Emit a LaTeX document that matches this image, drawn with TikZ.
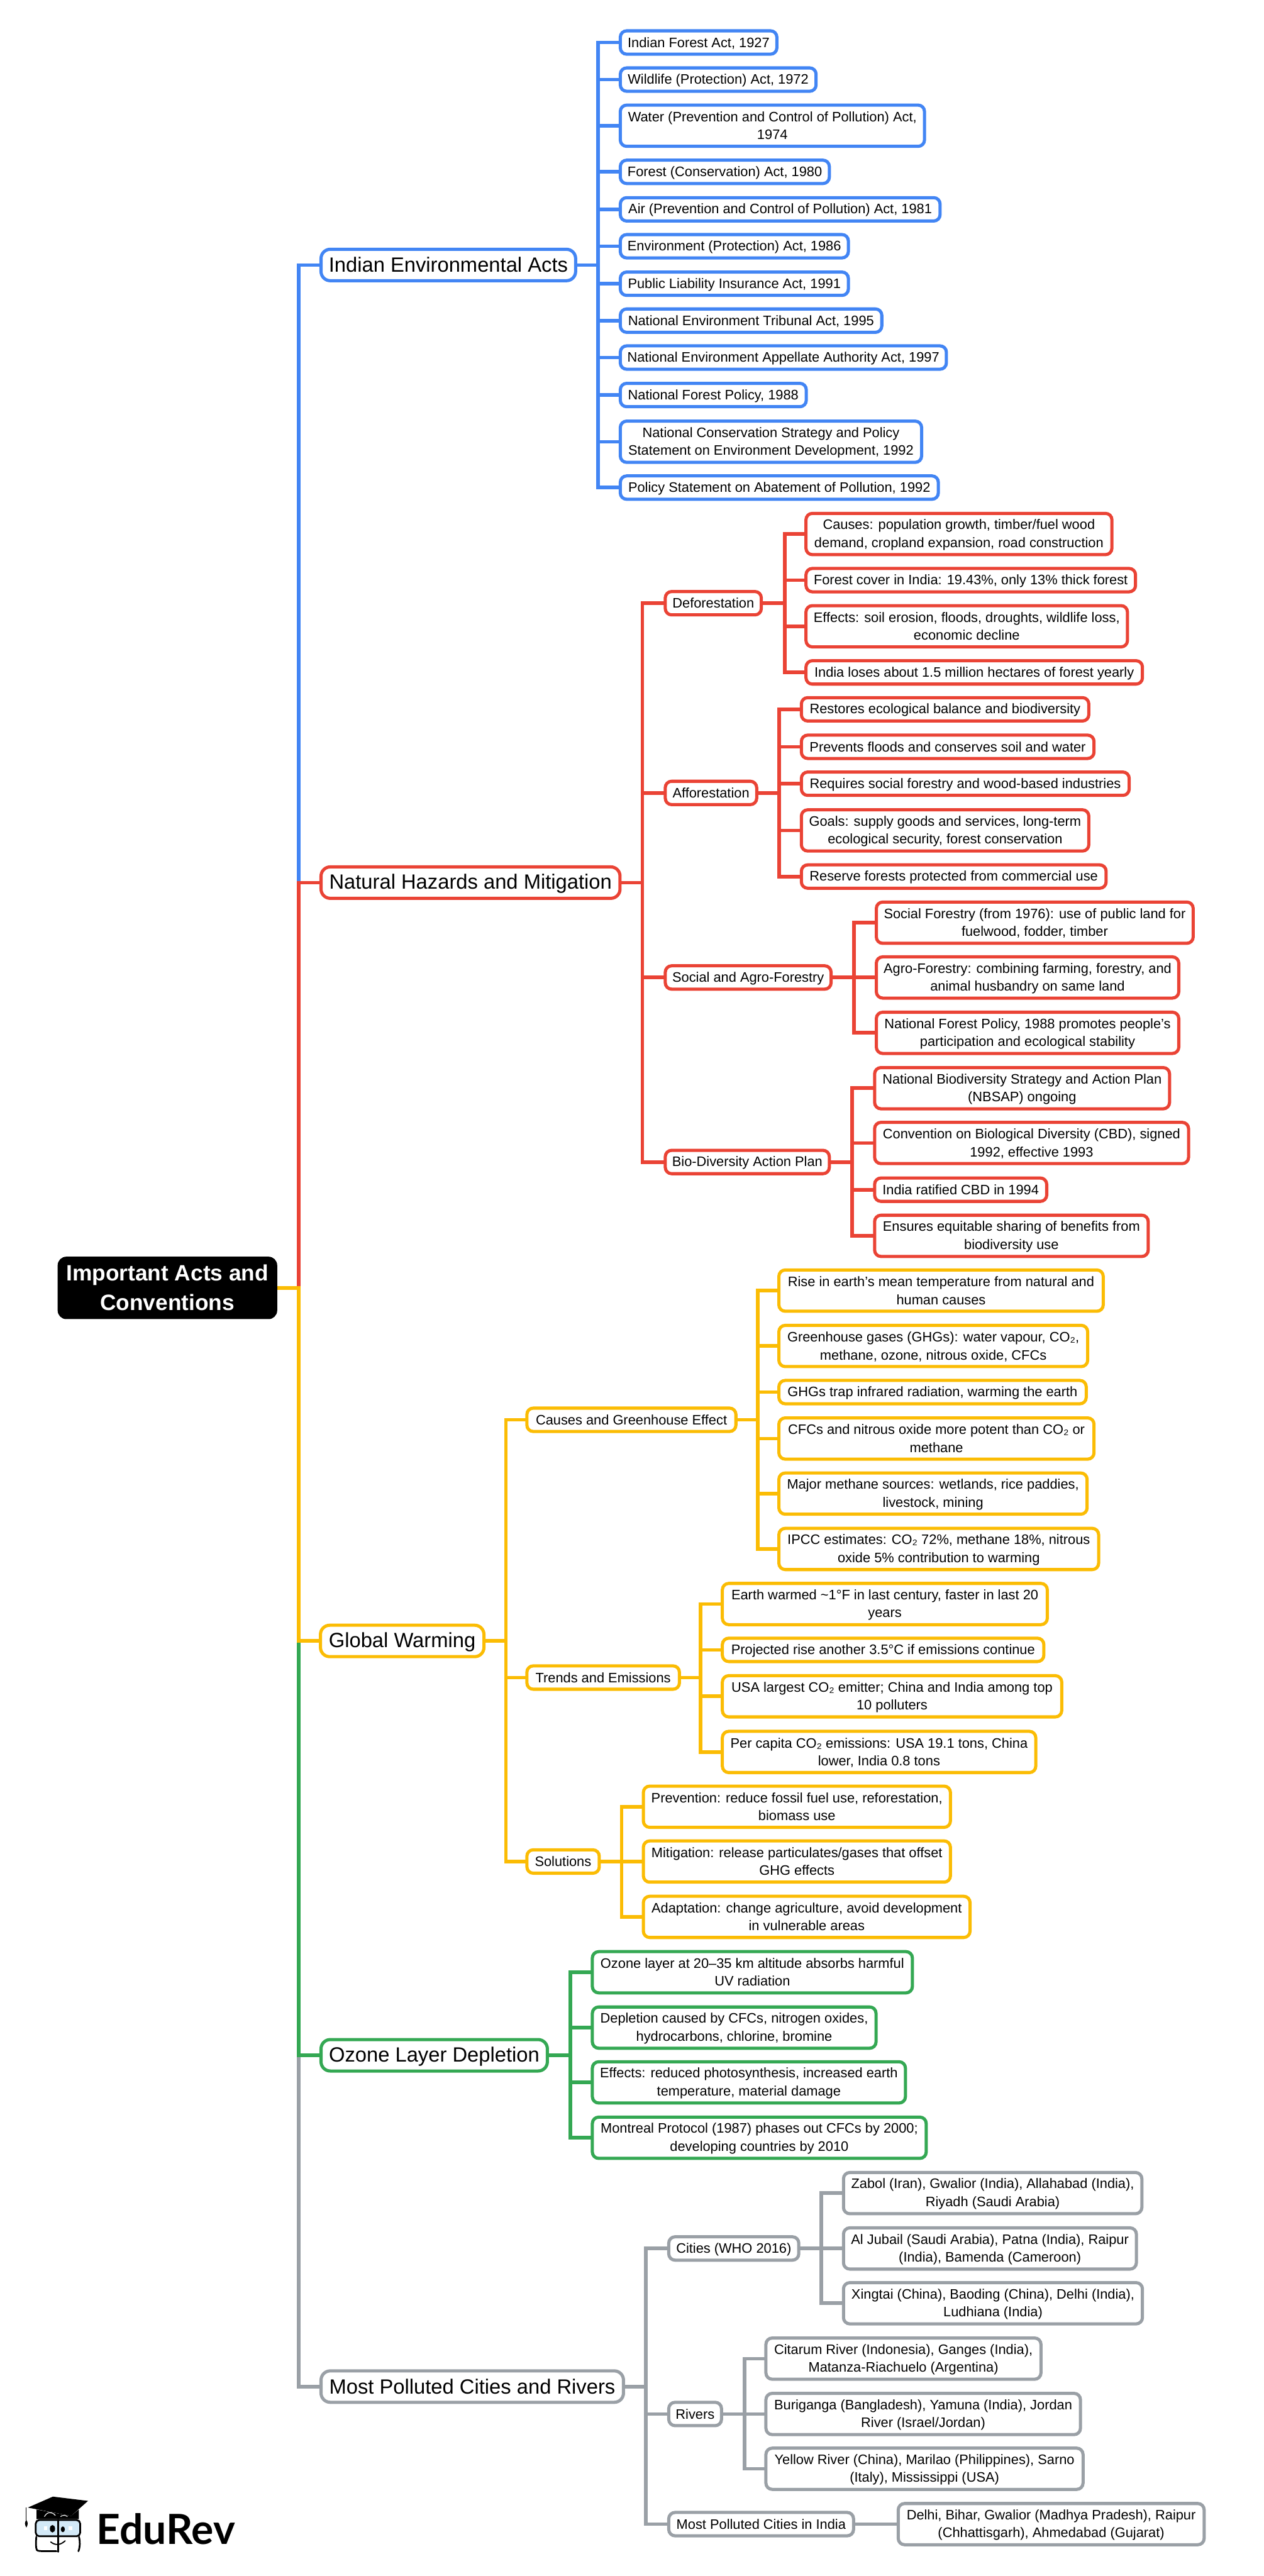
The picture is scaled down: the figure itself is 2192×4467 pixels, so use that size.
\documentclass[tikz,border=0pt]{standalone}
\usepackage{fontspec}
\setmainfont{Liberation Sans}
\newfontfamily\lato{Lato}
\definecolor{cbl}{HTML}{4285F4}
\definecolor{crd}{HTML}{EA4335}
\definecolor{cyl}{HTML}{FBBC04}
\definecolor{cgr}{HTML}{34A853}
\definecolor{cgy}{HTML}{9AA0A6}
\definecolor{lens}{HTML}{D3E9F7}
\tikzset{
  anynode/.style={draw=#1,fill=white,line width=2.75pt,align=center,inner sep=0pt,outer sep=0pt},
  leaf/.style={anynode=#1,rounded corners=5.5pt,font=\fontsize{11.9}{15.5}\selectfont,text=black},
  one/.style={leaf=#1,minimum height=20.25pt},
  two/.style={leaf=#1,minimum height=35.75pt},
  top/.style={anynode=#1,rounded corners=8pt,font=\fontsize{17.85}{22}\selectfont,minimum height=27.25pt},
  rootbox/.style={fill=black,text=white,rounded corners=7.5pt,align=center,inner sep=0pt,outer sep=0pt,font=\bfseries\fontsize{19.25}{25.5}\selectfont,minimum height=54.15pt},
  link/.style={draw=#1,line width=3.1pt,line join=miter},
}
\newcommand{\BX}[6]{\node[#1,minimum width={(#4-#3-2.5)*0.5pt}] (#2) at ({(#3+#4)/2-0.5},#5) {\rule{0pt}{0.85em}#6\rule[-0.15em]{0pt}{0.15em}};}
\newcommand{\LK}[4]{\draw[link=#1] (#2.east) -- (#2.east -| #3) |- (#4.west);}
\begin{document}
\begin{tikzpicture}[x=0.5pt,y=-0.5pt]
\useasboundingbox (0,0) rectangle (2192,4467);
% buses
\coordinate (bR) at (518,0);
\coordinate (bA) at (1037,0);
\coordinate (bN) at (1114,0);
\coordinate (bD) at (1361,0);
\coordinate (bF) at (1351,0);
\coordinate (bS) at (1481,0);
\coordinate (bB) at (1478,0);
\coordinate (bG) at (877.5,0);
\coordinate (bC) at (1314,0);
\coordinate (bT) at (1215,0);
\coordinate (bL) at (1078,0);
\coordinate (bO) at (989,0);
\coordinate (bP) at (1120,0);
\coordinate (bW) at (1424.5,0);
\coordinate (bV) at (1291,0);
% root
\BX{rootbox}{root}{99.25}{482.45}{2233.3}{Important Acts and\\Conventions}
% level 1
\BX{top=cbl}{iea}{556}{1000}{459.5}{Indian Environmental Acts}
\BX{top=crd}{nat}{556}{1077}{1530.5}{Natural Hazards and Mitigation}
\BX{top=cyl}{glo}{555}{841}{2845.5}{Global Warming}
\BX{top=cgr}{ozo}{556}{951}{3564}{Ozone Layer Depletion}
\BX{top=cgy}{mos}{556}{1083}{4138.5}{Most Polluted Cities and Rivers}
% blue leaves
\BX{one=cbl}{a1}{1075}{1349}{73.7}{Indian Forest Act, 1927}
\BX{one=cbl}{a2}{1075}{1417}{138}{Wildlife (Protection) Act, 1972}
\BX{two=cbl}{a3}{1075}{1605}{218}{Water (Prevention and Control of Pollution) Act,\\1974}
\BX{one=cbl}{a4}{1075}{1440}{298}{Forest (Conservation) Act, 1980}
\BX{one=cbl}{a5}{1075}{1632}{363}{Air (Prevention and Control of Pollution) Act, 1981}
\BX{one=cbl}{a6}{1075}{1473}{427}{Environment (Protection) Act, 1986}
\BX{one=cbl}{a7}{1075}{1473}{492}{Public Liability Insurance Act, 1991}
\BX{one=cbl}{a8}{1075}{1531}{556}{National Environment Tribunal Act, 1995}
\BX{one=cbl}{a9}{1075}{1643}{620}{National Environment Appellate Authority Act, 1997}
\BX{one=cbl}{a10}{1075}{1400}{685}{National Forest Policy, 1988}
\BX{two=cbl}{a11}{1075}{1600}{766}{National Conservation Strategy and Policy\\Statement on Environment Development, 1992}
\BX{one=cbl}{a12}{1075}{1629}{845.5}{Policy Statement on Abatement of Pollution, 1992}
% red mid
\BX{one=crd}{def}{1153}{1322}{1046}{Deforestation}
\BX{one=crd}{aff}{1153}{1314}{1375}{Afforestation}
\BX{one=crd}{soc}{1153}{1443}{1695}{Social and Agro-Forestry}
\BX{one=crd}{bio}{1153}{1440}{2015}{Bio-Diversity Action Plan}
% red leaves
\BX{two=crd}{d1}{1397}{1930}{926}{Causes: population growth, timber/fuel wood\\demand, cropland expansion, road construction}
\BX{one=crd}{d2}{1397}{1971}{1006}{Forest cover in India: 19.43\%, only 13\% thick forest}
\BX{two=crd}{d3}{1397}{1957}{1086}{Effects: soil erosion, floods, droughts, wildlife loss,\\economic decline}
\BX{one=crd}{d4}{1397}{1983}{1166}{India loses about 1.5 million hectares of forest yearly}
\BX{one=crd}{f1}{1389}{1890}{1230}{Restores ecological balance and biodiversity}
\BX{one=crd}{f2}{1389}{1899}{1295}{Prevents floods and conserves soil and water}
\BX{one=crd}{f3}{1389}{1960}{1359}{Requires social forestry and wood-based industries}
\BX{two=crd}{f4}{1389}{1890}{1440}{Goals: supply goods and services, long-term\\ecological security, forest conservation}
\BX{one=crd}{f5}{1389}{1920}{1520}{Reserve forests protected from commercial use}
\BX{two=crd}{s1}{1519}{2071}{1600}{Social Forestry (from 1976): use of public land for\\fuelwood, fodder, timber}
\BX{two=crd}{s2}{1519}{2046}{1695}{Agro-Forestry: combining farming, forestry, and\\animal husbandry on same land}
\BX{two=crd}{s3}{1519}{2046}{1791}{National Forest Policy, 1988 promotes people’s\\participation and ecological stability}
\BX{two=crd}{b1}{1516}{2030}{1887}{National Biodiversity Strategy and Action Plan\\(NBSAP) ongoing}
\BX{two=crd}{b2}{1516}{2063}{1982}{Convention on Biological Diversity (CBD), signed\\1992, effective 1993}
\BX{one=crd}{b3}{1516}{1817}{2063}{India ratified CBD in 1994}
\BX{two=crd}{b4}{1516}{1993}{2143}{Ensures equitable sharing of benefits from\\biodiversity use}
% yellow mid
\BX{one=cyl}{cge}{913}{1278}{2462}{Causes and Greenhouse Effect}
\BX{one=cyl}{tre}{913}{1180}{2909}{Trends and Emissions}
\BX{one=cyl}{sol}{913}{1041}{3228}{Solutions}
% yellow leaves
\BX{two=cyl}{c1}{1350}{1915}{2238}{Rise in earth’s mean temperature from natural and\\human causes}
\BX{two=cyl}{c2}{1350}{1888}{2334}{Greenhouse gases (GHGs): water vapour, CO₂,\\methane, ozone, nitrous oxide, CFCs}
\BX{one=cyl}{c3}{1350}{1885.5}{2414}{GHGs trap infrared radiation, warming the earth}
\BX{two=cyl}{c4}{1350}{1899}{2494.5}{CFCs and nitrous oxide more potent than CO₂ or\\methane}
\BX{two=cyl}{c5}{1350}{1887}{2590}{Major methane sources: wetlands, rice paddies,\\livestock, mining}
\BX{two=cyl}{c6}{1350}{1907}{2686}{IPCC estimates: CO₂ 72\%, methane 18\%, nitrous\\oxide 5\% contribution to warming}
\BX{two=cyl}{t1}{1252}{1818}{2781.5}{Earth warmed \textasciitilde1°F in last century, faster in last 20\\years}
\BX{one=cyl}{t2}{1252}{1812}{2861}{Projected rise another 3.5°C if emissions continue}
\BX{two=cyl}{t3}{1252}{1843}{2941.5}{USA largest CO₂ emitter; China and India among top\\10 polluters}
\BX{two=cyl}{t4}{1252}{1798}{3038}{Per capita CO₂ emissions: USA 19.1 tons, China\\lower, India 0.8 tons}
\BX{two=cyl}{l1}{1115}{1650}{3133}{Prevention: reduce fossil fuel use, reforestation,\\biomass use}
\BX{two=cyl}{l2}{1115}{1650}{3228}{Mitigation: release particulates/gases that offset\\GHG effects}
\BX{two=cyl}{l3}{1115}{1684}{3324}{Adaptation: change agriculture, avoid development\\in vulnerable areas}
% green leaves
\BX{two=cgr}{o1}{1026.5}{1584}{3420}{Ozone layer at 20–35 km altitude absorbs harmful\\UV radiation}
\BX{two=cgr}{o2}{1026.5}{1521}{3516}{Depletion caused by CFCs, nitrogen oxides,\\hydrocarbons, chlorine, bromine}
\BX{two=cgr}{o3}{1026.5}{1572}{3611}{Effects: reduced photosynthesis, increased earth\\temperature, material damage}
\BX{two=cgr}{o4}{1026.5}{1608}{3707}{Montreal Protocol (1987) phases out CFCs by 2000;\\developing countries by 2010}
% gray mid
\BX{one=cgy}{cit}{1159}{1387}{3899}{Cities (WHO 2016)}
\BX{one=cgy}{riv}{1159}{1253}{4186}{Rivers}
\BX{one=cgy}{mpi}{1159}{1482}{4377}{Most Polluted Cities in India}
% gray leaves
\BX{two=cgy}{w1}{1462}{1982}{3803}{Zabol (Iran), Gwalior (India), Allahabad (India),\\Riyadh (Saudi Arabia)}
\BX{two=cgy}{w2}{1462}{1972.5}{3899}{Al Jubail (Saudi Arabia), Patna (India), Raipur\\(India), Bamenda (Cameroon)}
\BX{two=cgy}{w3}{1462}{1983}{3994}{Xingtai (China), Baoding (China), Delhi (India),\\Ludhiana (India)}
\BX{two=cgy}{v1}{1327.5}{1807}{4090}{Citarum River (Indonesia), Ganges (India),\\Matanza-Riachuelo (Argentina)}
\BX{two=cgy}{v2}{1327.5}{1875.5}{4186}{Buriganga (Bangladesh), Yamuna (India), Jordan\\River (Israel/Jordan)}
\BX{two=cgy}{v3}{1327.5}{1880}{4281}{Yellow River (China), Marilao (Philippines), Sarno\\(Italy), Mississippi (USA)}
\BX{two=cgy}{m1}{1557}{2090}{4377}{Delhi, Bihar, Gwalior (Madhya Pradesh), Raipur\\(Chhattisgarh), Ahmedabad (Gujarat)}
% connectors
\foreach \c in {a1,a2,a3,a4,a5,a6,a7,a8,a9,a10,a11,a12}{\LK{cbl}{iea}{bA}{\c}}
\foreach \c in {def,aff,soc,bio}{\LK{crd}{nat}{bN}{\c}}
\foreach \c in {d1,d2,d3,d4}{\LK{crd}{def}{bD}{\c}}
\foreach \c in {f1,f2,f3,f4,f5}{\LK{crd}{aff}{bF}{\c}}
\foreach \c in {s1,s2,s3}{\LK{crd}{soc}{bS}{\c}}
\foreach \c in {b1,b2,b3,b4}{\LK{crd}{bio}{bB}{\c}}
\foreach \c in {cge,tre,sol}{\LK{cyl}{glo}{bG}{\c}}
\foreach \c in {c1,c2,c3,c4,c5,c6}{\LK{cyl}{cge}{bC}{\c}}
\foreach \c in {t1,t2,t3,t4}{\LK{cyl}{tre}{bT}{\c}}
\foreach \c in {l1,l2,l3}{\LK{cyl}{sol}{bL}{\c}}
\foreach \c in {o1,o2,o3,o4}{\LK{cgr}{ozo}{bO}{\c}}
\foreach \c in {cit,riv,mpi}{\LK{cgy}{mos}{bP}{\c}}
\foreach \c in {w1,w2,w3}{\LK{cgy}{cit}{bW}{\c}}
\foreach \c in {v1,v2,v3}{\LK{cgy}{riv}{bV}{\c}}
\draw[link=cgy] (mpi.east) -- (m1.west);
% trunk (drawn so that each colour lies over the next)
\LK{cbl}{root}{bR}{iea}
\LK{crd}{root}{bR}{nat}
\LK{cgy}{root}{bR}{mos}
\LK{cgr}{root}{bR}{ozo}
\LK{cyl}{root}{bR}{glo}
% logo
\fill[black] (91.7,4329.3) -- (152.7,4336.7) -- (123.3,4362.7) -- (48.3,4348.3) -- cycle;
\fill[black] (63.3,4351.7) -- (63.3,4368.3) -- (136.7,4368.3) -- (136.7,4351.7) -- (123.3,4362.7) -- cycle;
\draw[black,line width=0.6pt] (45.7,4348.3) -- (45.7,4371);
\fill[black] (45.7,4383) .. controls (43,4378) and (42,4374) .. (45.7,4370) .. controls (49,4374) and (48.5,4378) .. (45.7,4383) -- cycle;
\draw[white,line width=0.6pt] (77,4364) .. controls (82,4355) and (90,4355) .. (96,4362);
\draw[white,line width=0.6pt] (105,4364) .. controls (108,4361) and (114,4361) .. (117,4364);
\draw[black,line width=1.5pt,fill=lens,rounded corners=3pt] (62,4370) rectangle (139,4398);
\draw[black,line width=1.5pt,line cap=round] (101,4369) -- (101,4425);
\fill[black] (91,4385) ellipse [x radius=4.5,y radius=6.5];
\fill[black] (109,4386) ellipse [x radius=3.5,y radius=5];
\fill[white] (76.5,4381) rectangle (82,4387);
\fill[white] (119,4381) rectangle (125,4387);
\draw[black,line width=1.5pt,line cap=round] (63,4399) .. controls (62,4410) and (62,4418) .. (64,4422) .. controls (66,4424) and (70,4424) .. (98,4424);
\draw[black,line width=1.5pt,line cap=round] (137,4399) .. controls (139,4408) and (139,4416) .. (136,4424);
\draw[black,line width=1pt,line cap=round] (88,4408) .. controls (96,4414) and (104,4414) .. (113,4406);
\node[anchor=base west,inner sep=0pt,font=\lato\bfseries\fontsize{36}{40}\selectfont] (brand) at (167,4412) {EduRev};
\end{tikzpicture}
\end{document}
